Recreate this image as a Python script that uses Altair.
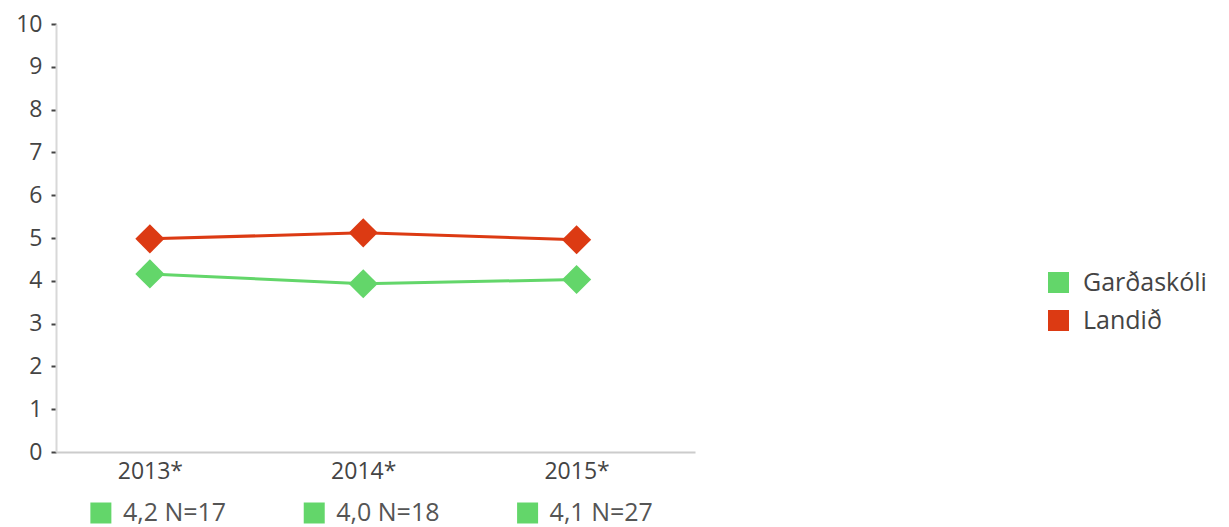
import altair as alt
import pandas as pd

years = ["2013*", "2014*", "2015*"]
gardaskoli = [4.16, 3.93, 4.03]
landid = [4.98, 5.12, 4.96]
n_labels = ["4,2 N=17", "4,0 N=18", "4,1 N=27"]
series = ["Garðaskóli", "Landið"]
colors = ["#63d66a", "#dc3a13"]

rows = []
for i, y in enumerate(years):
    rows.append({"year": y, "idx": i, "series": series[0], "value": gardaskoli[i]})
    rows.append({"year": y, "idx": i, "series": series[1], "value": landid[i]})
df = pd.DataFrame(rows)
lab = pd.DataFrame({"year": years, "idx": list(range(len(years))), "label": n_labels})

W, H = 639, 428
FONT = "Open Sans"
TXT = "#444"
label_expr = "[" + ",".join("'%s'" % y for y in years) + "][datum.value]"

xscale = alt.Scale(domain=[-0.44, 2.555], nice=False, zero=False)
xs = alt.X("idx:Q", scale=xscale,
           axis=alt.Axis(title=None, values=[0, 1, 2], labelExpr=label_expr, ticks=False,
                         grid=False, labelFontSize=23, labelColor=TXT, labelFont=FONT,
                         labelPadding=8, domainColor="#cccccc", domainWidth=2))
ys = alt.Y("value:Q", scale=alt.Scale(domain=[0, 10]),
           axis=alt.Axis(title=None, values=list(range(0, 11)), grid=False,
                         labelFontSize=23, labelColor=TXT, labelFont=FONT,
                         tickColor="#444", tickSize=5, tickWidth=2, labelPadding=9,
                         domainColor="#d8d8d8", domainWidth=2))
color = alt.Color("series:N", scale=alt.Scale(domain=series, range=colors),
                  legend=alt.Legend(title=None, orient="none", legendX=990, legendY=246,
                                    symbolType="square", symbolSize=441, labelFontSize=25,
                                    labelFont=FONT, labelColor=TXT, rowPadding=12,
                                    symbolStrokeWidth=0, labelOffset=12))

base = alt.Chart(df)
lines = base.mark_line(strokeWidth=3).encode(x=xs, y=ys, color=color, detail="series:N")
pts = base.mark_point(shape="diamond", filled=True, size=850, opacity=1).encode(
    x=alt.X("idx:Q", scale=xscale), y="value:Q", color=color)

sq = alt.Chart(lab).mark_square(size=441, color=colors[0], opacity=1, xOffset=-49).encode(
    x=alt.X("idx:Q", scale=xscale), y=alt.value(H + 61))
txt = alt.Chart(lab).mark_text(align="left", baseline="middle", fontSize=25, font=FONT,
                               color="#555", dx=-27).encode(
    x=alt.X("idx:Q", scale=xscale), y=alt.value(H + 61), text="label:N")

chart = alt.layer(lines, pts, sq, txt).properties(
    width=W, height=H, autosize=alt.AutoSizeParams(type="none"),
    padding={"left": 48, "top": 16, "right": 526, "bottom": 75}
).configure_view(stroke=None)

chart.save("out.html", embed_options={"renderer": "svg", "actions": False})
